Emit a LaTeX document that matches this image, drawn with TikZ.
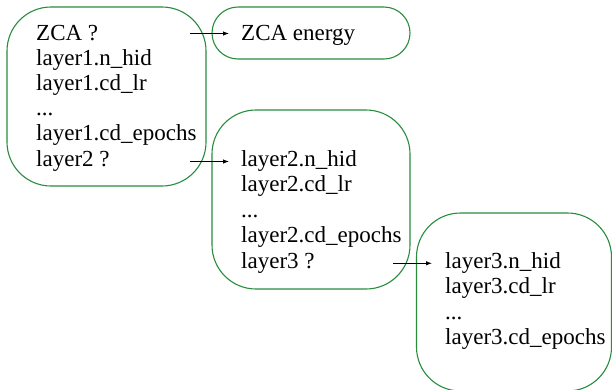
\documentclass[tikz,border=0pt]{standalone}
\usepackage{fontspec}
\setmainfont{Liberation Serif}
\usetikzlibrary{arrows.meta}
\definecolor{boxgreen}{RGB}{40,140,60}
\begin{document}
\begin{tikzpicture}[x=1pt,y=-1pt,
  box/.style={draw=boxgreen,line width=1.1pt},
  txt/.style={anchor=base west,inner sep=0pt,font=\fontsize{23}{25}\selectfont},
  arr/.style={draw=black,line width=0.9pt,-{Latex[length=6pt,width=4.5pt]}}]
\useasboundingbox (0,0) rectangle (612,389);
% boxes
\draw[box,rounded corners=44pt] (7,7) rectangle (206,186);
\draw[box,rounded corners=26pt] (212,7) rectangle (410,59);
\draw[box,rounded corners=44pt] (212,110) rectangle (410,289);
\draw[box,rounded corners=44pt] (416.5,213) rectangle (611.5,391);
% box 1 text
\node[txt] (t11) at (36,40) {ZCA ?};
\node[txt] (t12) at (36,65.2) {layer1.n\_hid};
\node[txt] (t13) at (36,90.4) {layer1.cd\_lr};
\node[txt] (t14) at (36,115.6) {...};
\node[txt] (t15) at (36,140.8) {layer1.cd\_epochs};
\node[txt] (t16) at (36,166) {layer2 ?};
% box 2 text
\node[txt] (t21) at (241,40) {ZCA energy};
% box 3 text
\node[txt] (t31) at (241,166) {layer2.n\_hid};
\node[txt] (t32) at (241,191.5) {layer2.cd\_lr};
\node[txt] (t33) at (241,217) {...};
\node[txt] (t34) at (241,242.5) {layer2.cd\_epochs};
\node[txt] (t35) at (241,268) {layer3 ?};
% box 4 text
\node[txt] (t41) at (445,268) {layer3.n\_hid};
\node[txt] (t42) at (445,293.5) {layer3.cd\_lr};
\node[txt] (t43) at (445,319) {...};
\node[txt] (t44) at (445,344.5) {layer3.cd\_epochs};
% arrows
\coordinate (a1s) at (190,33.5);
\coordinate (a1e) at (229,33.5);
\coordinate (a2s) at (190,161.5);
\coordinate (a2e) at (229,161.5);
\coordinate (a3s) at (393,263.3);
\coordinate (a3e) at (432,263.3);
\draw[arr] (a1s) -- (a1e);
\draw[arr] (a2s) -- (a2e);
\draw[arr] (a3s) -- (a3e);
\end{tikzpicture}
\end{document}
